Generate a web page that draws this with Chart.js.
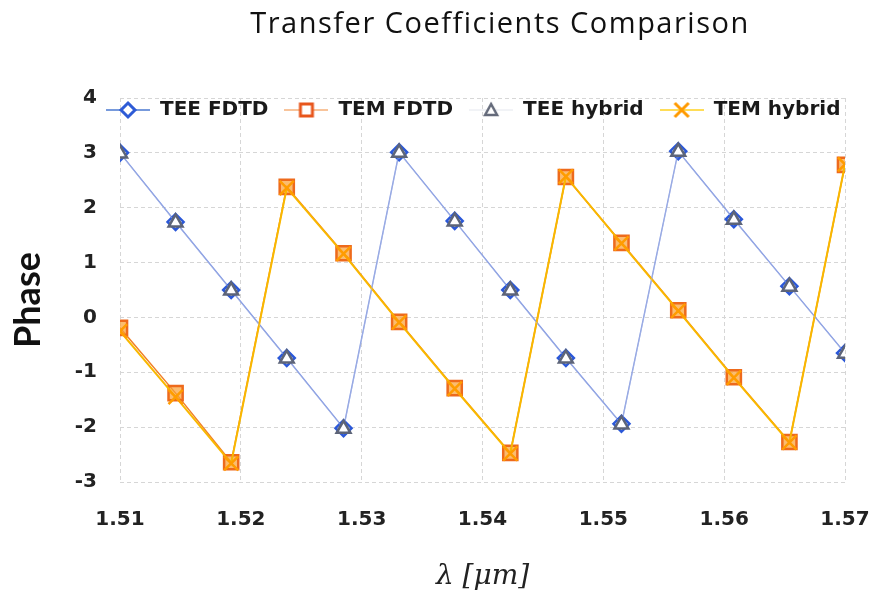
<!DOCTYPE html>
<html>
<head>
<meta charset="utf-8">
<script src="https://cdn.jsdelivr.net/npm/chart.js@4.4.1/dist/chart.umd.min.js"></script>
<style>
  html, body { margin: 0; padding: 0; background: #ffffff; }
  #wrap { width: 875px; height: 597px; }
</style>
</head>
<body>
<div id="wrap"><canvas id="chart" width="875" height="597"></canvas></div>
<script>
// Wavelength samples (µm)
const wavelength = [1.5100, 1.5146, 1.5192, 1.5238, 1.5285, 1.5331, 1.5377,
                    1.5423, 1.5469, 1.5515, 1.5562, 1.5608, 1.5654, 1.5700];

// Phase of the transfer coefficients
const teeFdtd   = [3.00, 1.74, 0.50, -0.74, -2.02, 3.01, 1.76, 0.50, -0.74, -1.94, 3.03, 1.79, 0.57, -0.65];
const temFdtd   = [-0.19, -1.38, -2.64, 2.38, 1.17, -0.08, -1.29, -2.47, 2.56, 1.36, 0.13, -1.09, -2.27, 2.78];
const teeHybrid = [2.99, 1.73, 0.49, -0.75, -2.03, 3.00, 1.75, 0.49, -0.75, -1.95, 3.02, 1.78, 0.56, -0.66];
const temHybrid = [-0.25, -1.45, -2.66, 2.36, 1.16, -0.09, -1.30, -2.48, 2.57, 1.35, 0.12, -1.10, -2.28, 2.79];

const seriesNames = ['TEE FDTD', 'TEM FDTD', 'TEE hybrid', 'TEM hybrid'];

// Axis ticks
const xTickValues = [1.51, 1.52, 1.53, 1.54, 1.55, 1.56, 1.57];
const yTickValues = [-3, -2, -1, 0, 1, 2, 3, 4];

const chartTitle = 'Transfer Coefficients Comparison';
const yTitle = 'Phase';
const xTitle = 'λ [μm]';

const TICK_FONT = { family: '"DejaVu Sans"', size: 20, weight: 'bold' };

// Small line-and-marker swatches for the legend
function makeIcon(lineColor, lineWidth, drawMarker) {
  const c = document.createElement('canvas');
  c.width = 44; c.height = 22;
  const g = c.getContext('2d');
  g.strokeStyle = lineColor; g.lineWidth = lineWidth;
  g.beginPath(); g.moveTo(0, 11); g.lineTo(44, 11); g.stroke();
  drawMarker(g, 22, 11);
  return c;
}
const legendIcons = [
  makeIcon('#4a78d0', 1.5, (g, x, y) => {
    g.beginPath(); g.moveTo(x, y - 7); g.lineTo(x + 7, y); g.lineTo(x, y + 7); g.lineTo(x - 7, y); g.closePath();
    g.fillStyle = '#fff'; g.fill(); g.strokeStyle = '#2e5bd6'; g.lineWidth = 3; g.stroke();
  }),
  makeIcon('#f6b07a', 1.5, (g, x, y) => {
    g.fillStyle = '#fff'; g.fillRect(x - 6, y - 6, 12, 12);
    g.strokeStyle = '#e8561c'; g.lineWidth = 3; g.strokeRect(x - 6, y - 6, 12, 12);
  }),
  makeIcon('#e4e7ee', 1, (g, x, y) => {
    g.beginPath(); g.moveTo(x, y - 6); g.lineTo(x + 6, y + 5); g.lineTo(x - 6, y + 5); g.closePath();
    g.fillStyle = '#fff'; g.fill(); g.strokeStyle = '#646a7a'; g.lineWidth = 2.5; g.stroke();
  }),
  makeIcon('#ffd21f', 1.5, (g, x, y) => {
    g.strokeStyle = '#ff9a00'; g.lineWidth = 3;
    g.beginPath(); g.moveTo(x - 7, y - 7); g.lineTo(x + 7, y + 7);
    g.moveTo(x + 7, y - 7); g.lineTo(x - 7, y + 7); g.stroke();
  })
];

const toPoints = (ys) => wavelength.map((x, i) => ({ x: x, y: ys[i] }));

// Legend sits inside the plot, just under the top gridline
const legendInPlot = {
  id: 'legendInPlot',
  afterLayout(chart) {
    const lg = chart.legend;
    const dx = 90, dy = 32;
    lg.left += dx; lg.right += dx;
    lg.top += dy; lg.bottom += dy;
  }
};

// Chart title and vertical axis title
const titles = {
  id: 'titles',
  afterDraw(chart) {
    const ctx = chart.ctx;
    ctx.save();
    ctx.fillStyle = '#111111';
    ctx.font = '29px "Open Sans"';
    if ('letterSpacing' in ctx) ctx.letterSpacing = '1.5px';
    ctx.textAlign = 'center';
    ctx.textBaseline = 'alphabetic';
    ctx.fillText(chartTitle, 500, 33);
    if ('letterSpacing' in ctx) ctx.letterSpacing = '0px';

    ctx.translate(40, 300);
    ctx.rotate(-Math.PI / 2);
    ctx.font = 'bold 36px Lato';
    ctx.fillText(yTitle, 0, 0);
    ctx.restore();
  }
};

new Chart(document.getElementById('chart'), {
  type: 'line',
  data: {
    datasets: [
      {
        label: seriesNames[0], data: toPoints(teeFdtd), order: 1,
        borderColor: '#7f97e4', borderWidth: 1.4, tension: 0,
        pointStyle: 'rectRot', pointRadius: 8, pointBorderWidth: 2.5,
        pointBorderColor: '#2b58d8', pointBackgroundColor: '#ffffff'
      },
      {
        label: seriesNames[1], data: toPoints(temFdtd), order: 1,
        borderColor: '#f0802a', borderWidth: 1.5, tension: 0,
        pointStyle: 'rect', pointRadius: 10, pointBorderWidth: 2.5,
        pointBorderColor: '#ee6a1c', pointBackgroundColor: 'rgba(250,160,50,0.7)'
      },
      {
        label: seriesNames[2], data: toPoints(teeHybrid), order: 0,
        borderColor: 'rgba(190,198,225,0.5)', borderWidth: 1, tension: 0,
        pointStyle: 'triangle', pointRadius: 8, pointBorderWidth: 2.5,
        pointBorderColor: '#5d6478', pointBackgroundColor: 'rgba(255,255,255,0.85)'
      },
      {
        label: seriesNames[3], data: toPoints(temHybrid), order: 0,
        borderColor: '#f9b800', borderWidth: 2, tension: 0,
        pointStyle: 'crossRot', pointRadius: 10, pointBorderWidth: 2.5,
        pointBorderColor: '#ff9c00', pointBackgroundColor: '#ff9c00'
      }
    ]
  },
  options: {
    responsive: false,
    animation: false,
    devicePixelRatio: 1,
    layout: { padding: { top: 52, right: 30, bottom: 0, left: 0 } },
    plugins: {
      title: { display: false },
      tooltip: { enabled: false },
      legend: {
        position: 'top',
        align: 'start',
        labels: {
          usePointStyle: true,
          pointStyleWidth: 44,
          padding: 16,
          color: '#1a1a1a',
          font: { family: '"DejaVu Sans"', size: 20, weight: 'bold' },
          generateLabels(chart) {
            return chart.data.datasets.map((ds, i) => ({
              text: ds.label,
              pointStyle: legendIcons[i],
              datasetIndex: i,
              hidden: false,
              fontColor: '#1a1a1a',
              lineWidth: 0,
              strokeStyle: 'rgba(0,0,0,0)',
              fillStyle: 'rgba(0,0,0,0)'
            }));
          }
        }
      }
    },
    scales: {
      x: {
        type: 'linear',
        min: 1.51, max: 1.57,
        afterBuildTicks(scale) { scale.ticks = xTickValues.map(v => ({ value: v })); },
        afterFit(scale) { scale.height = 115; },
        ticks: {
          padding: 0, color: '#222222', font: TICK_FONT,
          callback: (v) => v.toFixed(2)
        },
        grid: { color: '#d6d6d6', lineWidth: 1, drawTicks: true, tickLength: 26, tickColor: 'rgba(0,0,0,0)' },
        border: { display: false, dash: [4, 3] },
        title: {
          display: true, text: xTitle, color: '#222222',
          font: { family: '"DejaVu Serif"', size: 28, style: 'italic', lineHeight: 1.2 },
          padding: { top: 0, bottom: 3 }
        }
      },
      y: {
        type: 'linear',
        min: -3, max: 4,
        afterBuildTicks(scale) { scale.ticks = yTickValues.map(v => ({ value: v })); },
        afterFit(scale) { scale.width = 120; },
        ticks: { padding: 23, color: '#222222', font: TICK_FONT },
        grid: { color: '#d6d6d6', lineWidth: 1, drawTicks: false },
        border: { display: false, dash: [4, 3] }
      }
    }
  },
  plugins: [legendInPlot, titles]
});
</script>
</body>
</html>
